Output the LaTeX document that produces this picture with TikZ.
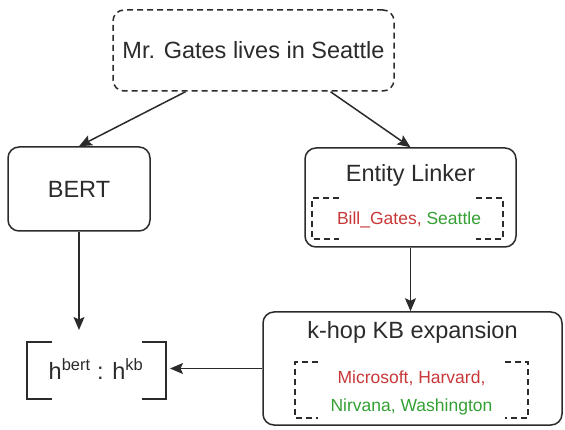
\documentclass[tikz,border=0pt]{standalone}
\usepackage{fontspec}
\setmainfont{Liberation Sans}
\usetikzlibrary{arrows.meta,calc}
\definecolor{ink}{HTML}{2B2B2B}
\definecolor{redtxt}{HTML}{C83838}
\definecolor{greentxt}{HTML}{34A034}
\tikzset{
  box/.style={draw=ink, line width=1.5pt, rounded corners=11pt, inner sep=0pt},
  dashedbox/.style={box, dash pattern=on 6pt off 4pt},
  label/.style={inner sep=0pt, text=ink, font=\fontsize{23.5}{26}\selectfont},
  small/.style={inner sep=0pt, font=\fontsize{17.5}{20}\selectfont},
  arr/.style={draw=ink, line width=1.5pt, -{Stealth[length=13pt,width=11pt,inset=2.5pt]}},
  ghost/.style={inner sep=0pt, outer sep=0pt},
  stubs/.style={draw=ink, line width=1.5pt, dash pattern=on 6pt off 4pt},
  brk/.style={draw=ink, line width=1.6pt}
}
\newcommand{\cornerframe}[2]{%
  \draw[stubs] ($(#1.north west)+(#2,0)$) -- (#1.north west) -- (#1.south west) -- ($(#1.south west)+(#2,0)$);
  \draw[stubs] ($(#1.north east)-(#2,0)$) -- (#1.north east) -- (#1.south east) -- ($(#1.south east)-(#2,0)$);
}
\begin{document}
\begin{tikzpicture}[x=1pt,y=-1pt]
\useasboundingbox (0,0) rectangle (565,430);

% input sentence
\node[dashedbox, minimum width=281pt, minimum height=81pt] (sent) at (253.5,50.5) {};
\node[label] (senttxt) at (sent.center) {Mr. Gates lives in Seattle};

% encoder branch
\node[box, minimum width=142pt, minimum height=84pt] (bert) at (79,189) {};
\node[label] (berttxt) at (bert.center) {BERT};

% entity linking branch
\node[box, minimum width=211pt, minimum height=99pt] (linker) at (410.5,197.5) {};
\node[label] (linkertxt) at (410.5,175) {Entity Linker};
\node[ghost, minimum width=191pt, minimum height=41pt] (ents) at (407.5,218.5) {};
\node[small] (entstxt) at (409,220) {\textcolor{redtxt}{Bill\_Gates,} \textcolor{greentxt}{Seattle}};
\cornerframe{ents}{27}

% knowledge base expansion
\node[box, minimum width=299pt, minimum height=113pt] (khop) at (412.5,368.5) {};
\node[label] (khoptxt) at (412.5,332) {k-hop KB expansion};
\node[ghost, minimum width=233pt, minimum height=56pt] (exp) at (411.5,390) {};
\node[small, text=redtxt] (exp1) at (411.5,378) {Microsoft, Harvard,};
\node[small, text=greentxt] (exp2) at (411.5,407) {Nirvana, Washington};
\cornerframe{exp}{23}

% concatenated representation
\node[ghost, minimum width=146pt, minimum height=80pt] (vec) at (97,370) {};
\node[label] (vectxt) at (96,369) {h\textsuperscript{bert} : h\textsuperscript{kb}};
\draw[brk] ($(vec.north west)+(28,12)$) -- ($(vec.north west)+(3,12)$) -- ($(vec.south west)+(3,-11)$) -- ($(vec.south west)+(28,-11)$);
\draw[brk] ($(vec.north east)+(-28,12)$) -- ($(vec.north east)+(-4,12)$) -- ($(vec.south east)+(-4,-11)$) -- ($(vec.south east)+(-28,-11)$);

% connectors
\draw[arr] ([xshift=-68pt]sent.south) -- (bert.north);
\draw[arr] ([xshift=77pt]sent.south) -- (linker.north);
\draw[arr] (linker.south) -- (linker.south |- khop.north);
\draw[arr] (bert.south) -- (bert.south |- vec.north);
\draw[arr] (khop.west) -- (khop.west -| vec.east);
\end{tikzpicture}
\end{document}
